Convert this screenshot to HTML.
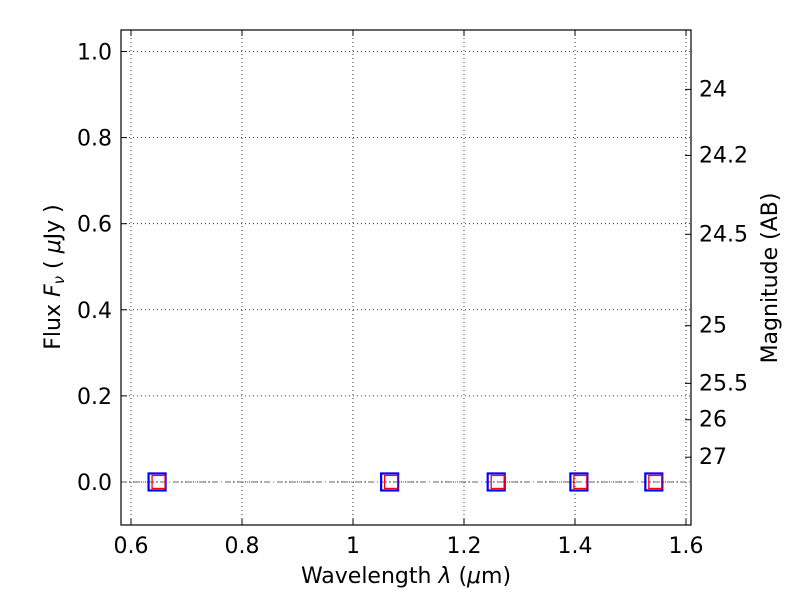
<!DOCTYPE html>
<html><head><meta charset="utf-8"><style>
body{margin:0;background:#fff;}
svg text{font-family:"DejaVu Sans","Liberation Sans",sans-serif;fill:#000;}
</style></head><body>
<svg id="chart" width="800" height="600" xmlns="http://www.w3.org/2000/svg"></svg>
<script>
const wavelengths=[0.647,1.066,1.258,1.407,1.542];
const fluxBlue=[0,0,0,0,0];
const fluxRed=[0,0,0,0,0];
const xTicks=[0.6,0.8,1.0,1.2,1.4,1.6];
const xTickLabels=["0.6","0.8","1","1.2","1.4","1.6"];
const yTicks=[0,0.2,0.4,0.6,0.8,1.0];
const yTickLabels=["0.0","0.2","0.4","0.6","0.8","1.0"];
const magTicks=[24,24.2,24.5,25,25.5,26,27];
const magLabels=["24","24.2","24.5","25","25.5","26","27"];

const L=121,R=691,T=30,B=525;
const xMin=0.582,xMax=1.609,yMin=-0.1,yMax=1.05;
const sx=v=>L+(v-xMin)/(xMax-xMin)*(R-L);
const sy=v=>B-(v-yMin)/(yMax-yMin)*(B-T);
const svg=document.getElementById('chart');
const NS='http://www.w3.org/2000/svg';
function mk(tag,attrs,parent){const e=document.createElementNS(NS,tag);for(const k in attrs)e.setAttribute(k,attrs[k]);(parent||svg).appendChild(e);return e;}

xTicks.forEach((t,i)=>{
 const g=mk('line',{x1:sx(t),x2:sx(t),y1:T,y2:B,stroke:'#000','stroke-width':0.8,'stroke-dasharray':'1,3'});
 
 
 const tk=mk('line',{x1:sx(t),x2:sx(t),y1:B,y2:B-6,stroke:'#000'});
 
 
 const tk2=mk('line',{x1:sx(t),x2:sx(t),y1:T,y2:T+6,stroke:'#000'});
 
 
 const lb=mk('text',{x:sx(t),y:B+28,'text-anchor':'middle','font-size':22});
 lb.textContent=xTickLabels[i];
 
 
});
yTicks.forEach((t,i)=>{
 const g=mk('line',{x1:L,x2:R,y1:sy(t),y2:sy(t),stroke:'#000','stroke-width':0.8,'stroke-dasharray':'1,3'});
 
 
 const tk=mk('line',{x1:L,x2:L+6,y1:sy(t),y2:sy(t),stroke:'#000'});
 
 
 const lb=mk('text',{x:L-9,y:sy(t)+8,'text-anchor':'end','font-size':22});
 lb.textContent=yTickLabels[i];
 
 
});
magTicks.forEach((m,i)=>{
 const f=Math.pow(10,-(m-23.9)/2.5);
 const y=sy(f);
 const tk=mk('line',{x1:R-6,x2:R,y1:y,y2:y,stroke:'#000'});
 
 
 const lb=mk('text',{x:R+8,y:y+7,'font-size':22});
 lb.textContent=magLabels[i];
 
 
});
const z=mk('line',{x1:L,x2:R,y1:sy(0),y2:sy(0),stroke:'#666','stroke-width':1,'stroke-dasharray':'6,3,1,3'});


wavelengths.forEach((w,i)=>{
 const cx=sx(w),cy=sy(fluxBlue[i]);
 const b=mk('rect',{x:cx-8.5,y:cy-8.5,width:17,height:17,fill:'none',stroke:'#0000ff','stroke-width':2.2});
 
 
 const rx=sx(w)+1.5,ry=sy(fluxRed[i]);
 const r=mk('rect',{x:rx-6.5,y:ry-6.5,width:13,height:13,fill:'none',stroke:'#ff0000','stroke-width':1.3});
 
 
});
const fr=mk('rect',{x:L,y:T,width:R-L,height:B-T,fill:'none',stroke:'#000','stroke-width':1.2});


const xt=mk('text',{x:406,y:583,'text-anchor':'middle','font-size':22});
xt.innerHTML='Wavelength  <tspan font-style="italic">λ</tspan> (<tspan font-style="italic">μ</tspan>m)';


const yt=mk('text',{x:0,y:0,'text-anchor':'middle','font-size':22,transform:'translate(60,277) rotate(-90)'});
yt.innerHTML='Flux  <tspan font-style="italic">F</tspan><tspan font-style="italic" font-size="15" dy="4">ν</tspan><tspan dy="-4">  ( </tspan><tspan font-style="italic">μ</tspan>Jy )';


const rt=mk('text',{x:0,y:0,'text-anchor':'middle','font-size':22,transform:'translate(777,278) rotate(-90)'});
rt.textContent='Magnitude (AB)';


</script>
</body></html>
